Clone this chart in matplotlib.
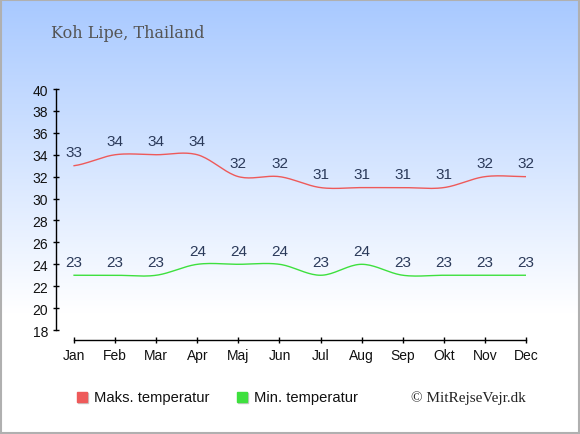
import numpy as np
import matplotlib
matplotlib.use("Agg")
import matplotlib.pyplot as plt
from matplotlib.patches import Rectangle

months = ["Jan", "Feb", "Mar", "Apr", "Maj", "Jun", "Jul", "Aug", "Sep", "Okt", "Nov", "Dec"]
max_temp = [33, 34, 34, 34, 32, 32, 31, 31, 31, 31, 32, 32]
min_temp = [23, 23, 23, 24, 24, 24, 23, 24, 23, 23, 23, 23]
yticks = list(range(18, 41, 2))
title = "Koh Lipe, Thailand"
legend_labels = ["Maks. temperatur", "Min. temperatur"]
copyright_text = "© MitRejseVejr.dk"

RED = "#ee5a5a"
GREEN = "#3ee03e"
LABEL = "#2b3a5a"


def catmull_rom(x, y, n=20):
    x = np.asarray(x, float)
    y = np.asarray(y, float)
    px = np.concatenate([[x[0]], x, [x[-1]]])
    py = np.concatenate([[y[0]], y, [y[-1]]])
    xs, ys = [], []
    for i in range(1, len(px) - 2):
        t = np.linspace(0, 1, n, endpoint=False)
        p0, p1, p2, p3 = py[i - 1], py[i], py[i + 1], py[i + 2]
        ys.append(0.5 * ((2 * p1) + (-p0 + p2) * t + (2 * p0 - 5 * p1 + 4 * p2 - p3) * t ** 2
                         + (-p0 + 3 * p1 - 3 * p2 + p3) * t ** 3))
        xs.append(px[i] + (px[i + 1] - px[i]) * t)
    xs.append([x[-1]])
    ys.append([y[-1]])
    return np.concatenate(xs), np.concatenate(ys)


fig = plt.figure(figsize=(5.8, 4.35), dpi=100)

# background gradient
bg = fig.add_axes([0, 0, 1, 1], zorder=-10)
grad = np.linspace(0, 1, 256)
top = np.array([168, 201, 255]) / 255.0
bot = np.array([255, 255, 255]) / 255.0
frac = np.clip(grad / 0.72, 0, 1)[:, None]
img = top * (1 - frac) + bot * frac
bg.imshow(img[:, None, :], aspect="auto", extent=[0, 1, 0, 1], origin="upper")
bg.set_xlim(0, 1)
bg.set_ylim(0, 1)
bg.axis("off")
bg.add_patch(Rectangle((0.001, 0.002), 0.997, 0.996, fill=False, edgecolor="#b0b0b0",
                       lw=1.5, transform=bg.transAxes))

ax = fig.add_axes([56 / 580, (435 - 341) / 435, 470 / 580, 251 / 435])
ax.patch.set_alpha(0)
x = np.arange(len(months))

sx, sy = catmull_rom(x, max_temp)
ax.plot(sx, sy, color=RED, lw=1.0)
sx, sy = catmull_rom(x, min_temp)
ax.plot(sx, sy, color=GREEN, lw=1.0)

for xi, v in zip(x, max_temp):
    ax.annotate(str(v), (xi, v), xytext=(0, 4.5), textcoords="offset points",
                ha="center", va="bottom", fontsize=11, color=LABEL, family="Liberation Sans")
for xi, v in zip(x, min_temp):
    ax.annotate(str(v), (xi, v), xytext=(0, 4.5), textcoords="offset points",
                ha="center", va="bottom", fontsize=11, color=LABEL, family="Liberation Sans")

ax.set_xlim(-0.44, 11.0)
ax.set_ylim(17.09, 40)
ax.set_yticks(yticks)
ax.set_xticks(x)
ax.set_xticklabels(months)
for s in ["top", "right"]:
    ax.spines[s].set_visible(False)
ax.spines["left"].set_bounds(18, 40)
ax.spines["bottom"].set_bounds(0, 11)
ax.spines["left"].set_linewidth(1.0)
ax.spines["bottom"].set_linewidth(1.0)
ax.tick_params(axis="both", direction="inout", length=5, width=1, labelsize=10,
               labelcolor="#111111", pad=3)
for lab in ax.get_xticklabels() + ax.get_yticklabels():
    lab.set_family("Liberation Sans")

fig.text(51 / 580, 1 - 33 / 435, title, family="DejaVu Serif", fontsize=11.5,
         color="#555555", ha="left", va="center")

# legend
for cx, col, lab in [(82, RED, legend_labels[0]), (242, GREEN, legend_labels[1])]:
    fig.patches.append(Rectangle(((cx - 4) / 580, 1 - 404 / 435), 10 / 580, 10 / 435,
                                 transform=fig.transFigure, color="#c8c8c8", zorder=1))
    fig.patches.append(Rectangle(((cx - 5) / 580, 1 - 403 / 435), 10 / 580, 10 / 435,
                                 transform=fig.transFigure, color=col, zorder=2))
    fig.text((cx + 12) / 580, 1 - 398 / 435, lab, family="Liberation Sans", fontsize=10.6,
             color="#111111", ha="left", va="center")

fig.text(526 / 580, 1 - 398 / 435, copyright_text, family="Liberation Serif", fontsize=11,
         color="#222222", ha="right", va="center")

fig.savefig("out.png", dpi=100)
